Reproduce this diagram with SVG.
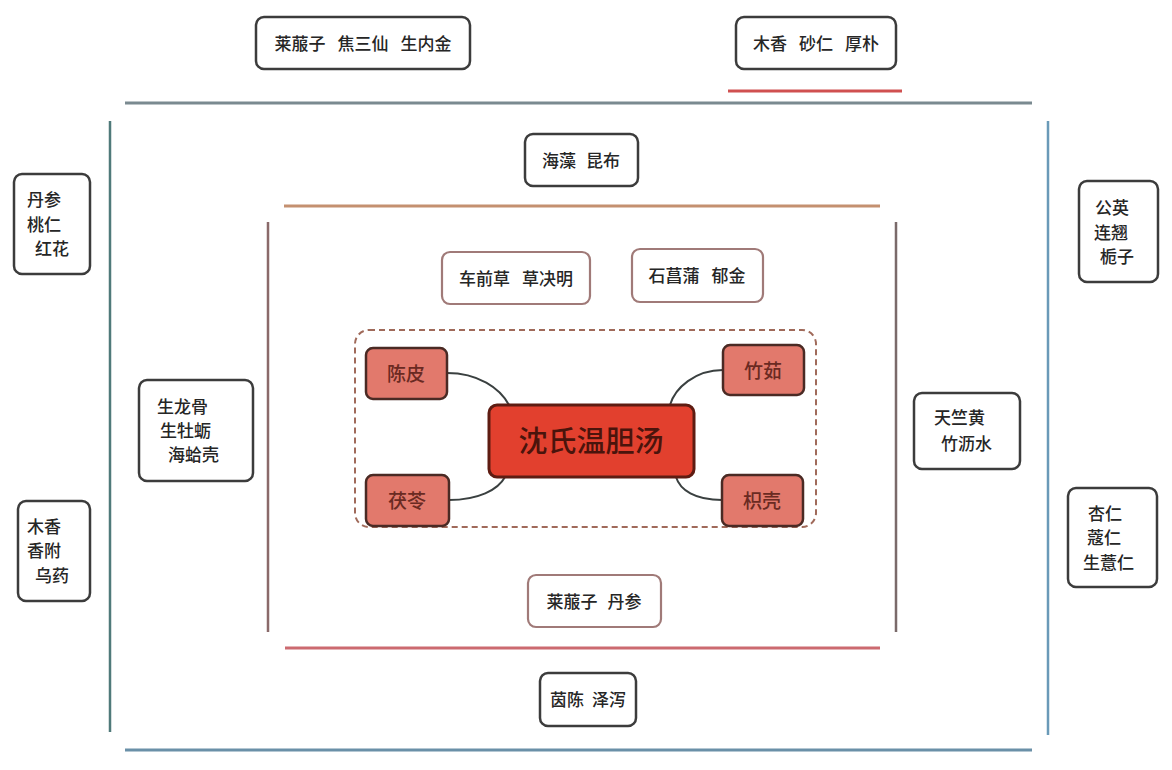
<svg xmlns="http://www.w3.org/2000/svg" width="1172" height="770" viewBox="0 0 1172 770">
<style>
.box{fill:#ffffff;stroke:#3c3c3c;stroke-width:2.5}
.pbox{fill:#ffffff;stroke:#a07a78;stroke-width:2.2}
.herb{fill:#e2796c;stroke:#4a2a24;stroke-width:2.5}
.t{font-family:"Noto Sans CJK SC","Noto Sans",sans-serif;font-size:17px;fill:#262626;font-weight:500}
.th{font-family:"Noto Sans CJK SC","Noto Sans",sans-serif;font-size:19px;fill:#6a2a22;font-weight:500}
.con{fill:none;stroke:#3a4040;stroke-width:2}
</style>
<rect width="1172" height="770" fill="#ffffff"/>
<g id="frames">
<line x1="125" y1="103" x2="1032" y2="103" stroke="#7a8a90" stroke-width="3"/>
<line x1="110" y1="121" x2="110" y2="732" stroke="#4f7a7a" stroke-width="2.5"/>
<line x1="1048" y1="121" x2="1048" y2="735" stroke="#6a9ab8" stroke-width="2.5"/>
<line x1="125" y1="750" x2="1032" y2="750" stroke="#6a90a8" stroke-width="3"/>
<line x1="728" y1="91" x2="902" y2="91" stroke="#d05050" stroke-width="3"/>
<line x1="284" y1="206" x2="880" y2="206" stroke="#c49070" stroke-width="3"/>
<line x1="268" y1="222" x2="268" y2="632" stroke="#8a6a6a" stroke-width="2.5"/>
<line x1="896" y1="222" x2="896" y2="632" stroke="#7a6a6a" stroke-width="2.5"/>
<line x1="285" y1="648" x2="880" y2="648" stroke="#cc6a70" stroke-width="3"/>
<rect x="355" y="330" width="461" height="197" rx="14" fill="none" stroke="#a06a5a" stroke-width="2" stroke-dasharray="6,4"/>
</g>
<g id="connectors">
<path class="con" d="M447,373 C478,373 500,388 509,405"/>
<path class="con" d="M723,370 C695,370 675,388 670,405"/>
<path class="con" d="M449,500 C478,500 498,490 505,477"/>
<path class="con" d="M722,500 C695,500 680,490 676,477"/>
</g>
<g id="n-top1"><rect class="box" x="256" y="17" width="214" height="52" rx="8"/><text class="t" x="363" y="50" text-anchor="middle"><tspan>莱菔子</tspan><tspan dx="12">焦三仙</tspan><tspan dx="12">生内金</tspan></text></g>
<g id="n-top2"><rect class="box" x="736" y="17" width="160" height="52" rx="8"/><text class="t" x="816" y="50" text-anchor="middle"><tspan>木香</tspan><tspan dx="12">砂仁</tspan><tspan dx="12">厚朴</tspan></text></g>
<g id="n-haizao"><rect class="box" x="525" y="134" width="113" height="52" rx="8"/><text class="t" x="581" y="167" text-anchor="middle"><tspan>海藻</tspan><tspan dx="10">昆布</tspan></text></g>
<g id="n-cheqian"><rect class="pbox" x="442" y="252" width="148" height="52" rx="8"/><text class="t" x="516" y="285" text-anchor="middle"><tspan>车前草</tspan><tspan dx="12">草决明</tspan></text></g>
<g id="n-shichang"><rect class="pbox" x="632" y="249" width="131" height="53" rx="8"/><text class="t" x="697" y="282" text-anchor="middle"><tspan>石菖蒲</tspan><tspan dx="12">郁金</tspan></text></g>
<g id="n-laifu"><rect class="pbox" x="528" y="575" width="133" height="52" rx="8"/><text class="t" x="594" y="608" text-anchor="middle"><tspan>莱菔子</tspan><tspan dx="10">丹参</tspan></text></g>
<g id="n-yinchen"><rect class="box" x="540" y="673" width="96" height="53" rx="8"/><text class="t" x="588" y="706" text-anchor="middle"><tspan>茵陈</tspan><tspan dx="8">泽泻</tspan></text></g>
<g id="n-danshen"><rect class="box" x="14" y="174" width="76" height="100" rx="8"/><text class="t" x="27" y="206">丹参</text><text class="t" x="27" y="231">桃仁</text><text class="t" x="35" y="255">红花</text></g>
<g id="n-muxiang"><rect class="box" x="18" y="501" width="72" height="100" rx="8"/><text class="t" x="27" y="533">木香</text><text class="t" x="27" y="557">香附</text><text class="t" x="35" y="582">乌药</text></g>
<g id="n-longgu"><rect class="box" x="139" y="380" width="114" height="101" rx="8"/><text class="t" x="157" y="413">生龙骨</text><text class="t" x="160" y="437">生牡蛎</text><text class="t" x="168" y="461">海蛤壳</text></g>
<g id="n-tianzhu"><rect class="box" x="914" y="393" width="106" height="76" rx="8"/><text class="t" x="934" y="424">天竺黄</text><text class="t" x="941" y="450">竹沥水</text></g>
<g id="n-gongying"><rect class="box" x="1079" y="181" width="79" height="101" rx="8"/><text class="t" x="1095" y="214">公英</text><text class="t" x="1094" y="239">连翘</text><text class="t" x="1100" y="263">栀子</text></g>
<g id="n-xingren"><rect class="box" x="1068" y="488" width="89" height="99" rx="8"/><text class="t" x="1088" y="520">杏仁</text><text class="t" x="1087" y="544">蔻仁</text><text class="t" x="1083" y="569">生薏仁</text></g>
<g id="n-chenpi"><rect class="herb" x="366" y="348" width="81" height="51" rx="7"/><text class="th" x="406" y="381" text-anchor="middle">陈皮</text></g>
<g id="n-zhuru"><rect class="herb" x="723" y="345" width="81" height="50" rx="7"/><text class="th" x="763" y="378" text-anchor="middle">竹茹</text></g>
<g id="n-fuling"><rect class="herb" x="366" y="475" width="83" height="51" rx="7"/><text class="th" x="407" y="508" text-anchor="middle">茯苓</text></g>
<g id="n-zhike"><rect class="herb" x="722" y="475" width="81" height="51" rx="7"/><text class="th" x="762" y="508" text-anchor="middle">枳壳</text></g>
<g id="n-center"><rect x="489" y="405" width="205" height="72" rx="8" fill="#e2402e" stroke="#5e1c12" stroke-width="3"/><text x="591" y="452" text-anchor="middle" font-family="'Noto Sans CJK SC','Noto Sans',sans-serif" font-size="29" font-weight="500" fill="#4a140c">沈氏温胆汤</text></g>
</svg>
